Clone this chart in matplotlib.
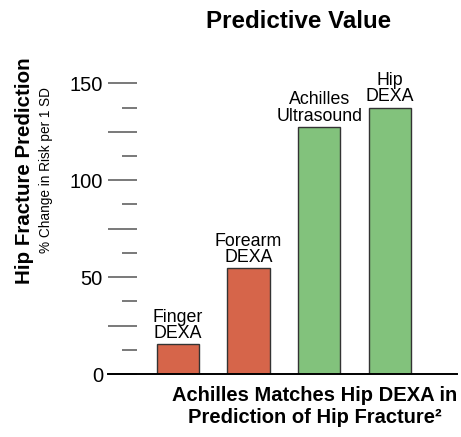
import matplotlib
matplotlib.use("Agg")
import matplotlib.pyplot as plt
from matplotlib.ticker import MultipleLocator, FuncFormatter

plt.rcParams['font.family'] = ['Liberation Sans', 'DejaVu Sans']

categories = ["Finger\nDEXA", "Forearm\nDEXA", "Achilles\nUltrasound", "Hip\nDEXA"]
values = [15.5, 54.5, 127.5, 137.5]
colors = ["#d6654a", "#d6654a", "#82c27c", "#82c27c"]
labeled_ticks = [0, 50, 100, 150]

W, H = 461, 437
fig = plt.figure(figsize=(W / 100, H / 100), dpi=100)
ax_w_px = 457 - 137
ax = fig.add_axes([137 / W, (H - 374) / H, ax_w_px / W, (374 - 83.3) / H])

x = list(range(len(values)))
bars = ax.bar(x, values, width=0.6, color=colors, edgecolor="#333333", linewidth=1.0, zorder=2)
for xi, v, lab in zip(x, values, categories):
    ax.annotate(lab, (xi, v), xytext=(0, 1.5), textcoords="offset points",
                ha="center", va="bottom", fontsize=12.8, linespacing=0.95,
                annotation_clip=False)

ax.set_xlim(-0.577, 3.95)
ax.set_ylim(0, 150)
for s in ["top", "right", "left", "bottom"]:
    ax.spines[s].set_visible(False)
ax.axhline(0, xmin=-29 / ax_w_px, xmax=1, color="black", lw=1.4, clip_on=False, zorder=3)
ax.set_xticks([])

ax.yaxis.set_major_locator(MultipleLocator(25))
ax.yaxis.set_minor_locator(MultipleLocator(12.5))
ax.yaxis.set_major_formatter(FuncFormatter(lambda v, p: f"{int(v)}" if int(round(v)) in labeled_ticks else ""))
ax.tick_params(axis="y", which="major", length=21, width=1.1, color="#555555",
               pad=3.5, labelsize=14.5, direction="out")
ax.tick_params(axis="y", which="minor", length=10.8, width=1.1, color="#555555", direction="out")

fig.text(298.5 / W, 1 - 21 / H, "Predictive Value", ha="center", va="center",
         fontsize=17.4, fontweight="bold")
fig.text(24 / W, 1 - 171 / H, "Hip Fracture Prediction", rotation=90, ha="center", va="center",
         fontsize=14.8, fontweight="bold")
fig.text(46 / W, 1 - 170 / H, "% Change in Risk per 1 SD", rotation=90, ha="center", va="center",
         fontsize=9.8)
fig.text(315 / W, 1 - 386 / H, "Achilles Matches Hip DEXA in\nPrediction of Hip Fracture\u00b2",
         ha="center", va="top", fontsize=14.5, fontweight="bold", linespacing=1.2)

fig.savefig("out.png", dpi=100)
